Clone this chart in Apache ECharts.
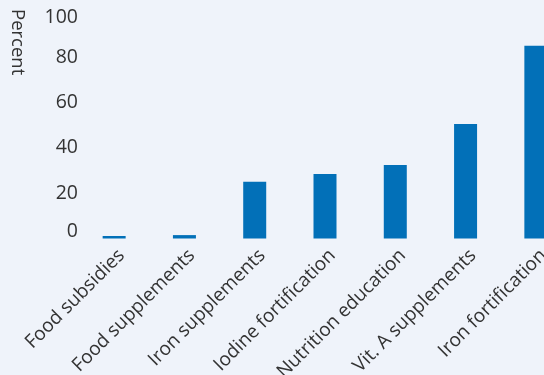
<!DOCTYPE html>
<html>
<head>
<meta charset="utf-8">
<script src="https://cdn.jsdelivr.net/npm/echarts@6/dist/echarts.min.js"></script>
<style>
  html, body { margin: 0; padding: 0; background: #eff3fa; }
  #chart { width: 544px; height: 375px; }
</style>
</head>
<body>
<div id="chart"></div>
<script>
// Share of programmes by intervention type
const categories = [
  'Food subsidies',
  'Food supplements',
  'Iron supplements',
  'Iodine fortification',
  'Nutrition education',
  'Vit. A supplements',
  'Iron fortification'
];
const percentValues = [1.1, 1.5, 25.1, 28.5, 32.5, 50.6, 85.1];
const yTicks = [0, 20, 40, 60, 80, 100];

const FONT = '"Open Sans", sans-serif';
const TEXT = '#333333';
const BAR = '#0270b8';
const Y_SIZE = 19.5;

const chart = echarts.init(document.getElementById('chart'), null, { renderer: 'canvas' });

chart.setOption({
  backgroundColor: '#eff3fa',
  animation: false,
  grid: [
    // plot area (runs slightly past the right edge of the canvas)
    { left: 79, width: 492, top: 12, bottom: 136.5, containLabel: false, outerBoundsMode: 'none' },
    // same band layout, nudged right, used only to place the slanted category labels
    { left: 86.5, width: 492, top: 12, bottom: 136.5, containLabel: false, outerBoundsMode: 'none' }
  ],
  xAxis: [{
    type: 'category',
    gridIndex: 0,
    data: categories,
    axisLine: { show: false },
    axisTick: { show: false },
    axisLabel: { show: false }
  }, {
    type: 'category',
    gridIndex: 1,
    data: categories,
    axisLine: { show: false },
    axisTick: { show: false },
    axisLabel: {
      interval: 0,
      rotate: 45,
      margin: 14,
      hideOverlap: false,
      color: TEXT,
      fontFamily: FONT,
      fontSize: 19
    }
  }],
  yAxis: [{
    type: 'value',
    gridIndex: 0,
    min: yTicks[0],
    max: yTicks[yTicks.length - 1],
    interval: 20,
    splitLine: { show: false },
    axisLine: { show: false },
    axisTick: { show: false },
    axisLabel: {
      margin: 1,
      color: TEXT,
      fontFamily: FONT,
      fontSize: Y_SIZE,
      formatter: function (v) {
        if (v === yTicks[0]) return '{low|' + v + '}';
        if (v === yTicks[yTicks.length - 1]) return '{high|' + v + '}';
        return '{mid|' + v + '}';
      },
      rich: {
        low: { fontFamily: FONT, fontSize: Y_SIZE, color: TEXT, padding: [0, 0, 14, 0] },
        mid: { fontFamily: FONT, fontSize: Y_SIZE, color: TEXT },
        high: { fontFamily: FONT, fontSize: Y_SIZE, color: TEXT, padding: [11, 0, 0, 0] }
      }
    }
  }, {
    type: 'value',
    gridIndex: 1,
    min: 0,
    max: 100,
    show: false
  }],
  graphic: [{
    type: 'text',
    x: 17,
    y: 9,
    rotation: -Math.PI / 2,
    style: {
      text: 'Percent',
      x: 0,
      y: 0,
      align: 'left',
      verticalAlign: 'middle',
      fill: TEXT,
      font: '18.5px ' + FONT
    }
  }],
  series: [{
    type: 'bar',
    xAxisIndex: 0,
    yAxisIndex: 0,
    data: percentValues,
    barWidth: 23,
    itemStyle: { color: BAR }
  }]
});
</script>
</body>
</html>
